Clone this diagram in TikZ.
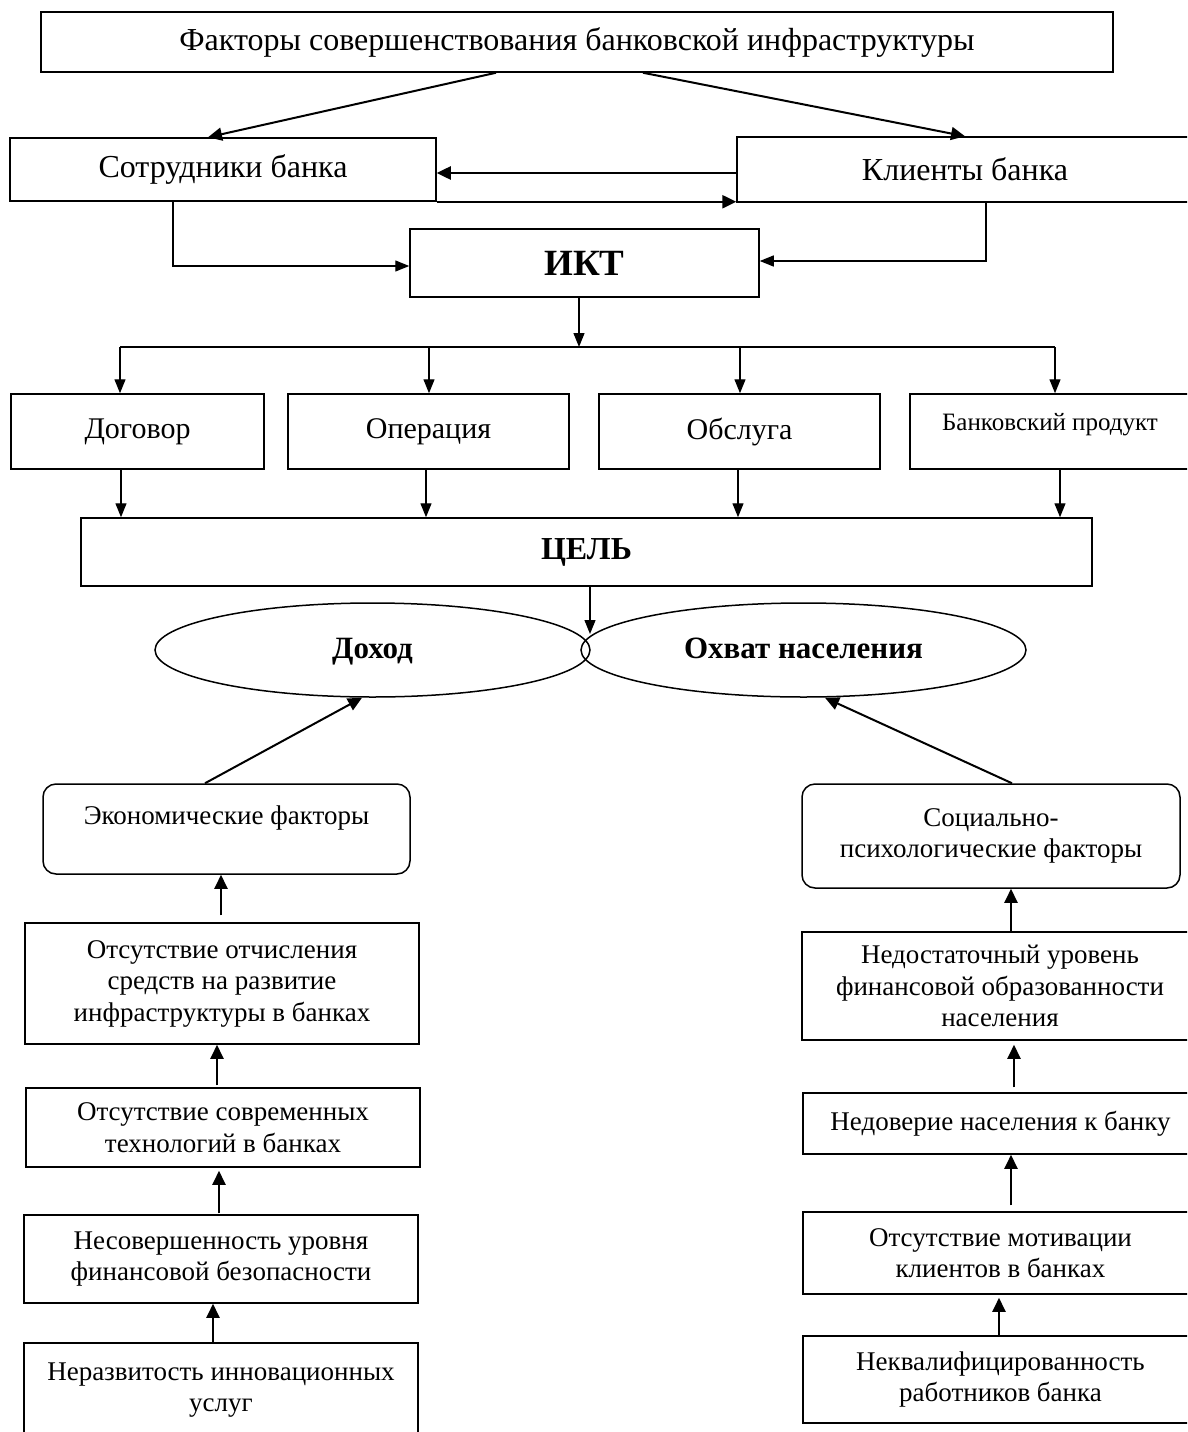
\documentclass[tikz,border=0pt]{standalone}
\usepackage{fontspec}
\setmainfont{Liberation Serif}
\usetikzlibrary{arrows.meta,shapes.geometric}
\tikzset{
  box/.style={draw, line width=1.5pt, inner sep=2pt, align=center, anchor=center},
  rbox/.style={box, rounded corners=13pt},
  oval/.style={draw, line width=1.5pt, ellipse, inner sep=0pt, anchor=center, text height=23pt, text depth=7pt},
  conn/.style={line width=2pt, -{Triangle[length=14pt,width=13pt]}},
  tconn/.style={line width=1.3pt, -{Triangle[length=14pt,width=11pt]}},
  thin/.style={line width=1.3pt},
  fbig/.style={font=\fontsize{32}{36}\selectfont},
  fmid/.style={font=\fontsize{30}{34}\selectfont},
  fsmall/.style={font=\fontsize{27}{31.5}\selectfont},
}
\begin{document}
\begin{tikzpicture}[x=1pt,y=-1pt]
\useasboundingbox (0,0) rectangle (1187,1432);
\clip (0,0) rectangle (1187,1432);
% top level
\node[box, fbig, minimum width=1072pt, minimum height=60pt] (top) at (577,42) {Факторы совершенствования банковской инфраструктуры};
\node[box, fbig, minimum width=426pt, minimum height=63pt] (sotr) at (223,169.5) {Сотрудники банка};
\node[box, fbig, minimum width=456pt, minimum height=65pt] (klient) at (965,169.5) {Клиенты банка};
\node[box, font=\fontsize{37}{40}\bfseries\selectfont, minimum width=349pt, minimum height=68pt] (ikt) at (584.5,263) {ИКТ};
% second level
\node[box, fmid, minimum width=253pt, minimum height=75pt] (dog) at (137.5,431.5) {Договор};
\node[box, fmid, minimum width=281pt, minimum height=75pt] (oper) at (428.5,431.5) {Операция};
\node[box, fmid, minimum width=281pt, minimum height=75pt] (obsl) at (739.5,431.5) {Обслуга};
\node[box, font=\fontsize{25}{29}\selectfont, minimum width=280pt, minimum height=75pt] (prod) at (1050,431.5) {Банковский продукт\\[-18pt]\strut};
\node[box, font=\fontsize{32}{36}\bfseries\selectfont, minimum width=1011pt, minimum height=68pt] (cel) at (586.5,552) {ЦЕЛЬ};
% ellipses
\node[oval, font=\fontsize{31}{35}\bfseries\selectfont, minimum width=435pt, minimum height=94pt] (dohod) at (372.5,650) {Доход};
\node[oval, font=\fontsize{31}{35}\bfseries\selectfont, minimum width=445pt, minimum height=94pt] (ohvat) at (803.5,650) {Охват населения};
% left column
\node[rbox, fsmall, minimum width=367pt, minimum height=90pt] (econ) at (226.5,829) {Экономические факторы\\[-14pt]\strut};
\node[box, fsmall, minimum width=394pt, minimum height=121pt] (l1) at (222,983.5) {Отсутствие отчисления\\средств на развитие\\инфраструктуры в банках};
\node[box, fsmall, minimum width=394pt, minimum height=79pt] (l2) at (223,1127.5) {Отсутствие современных\\технологий в банках};
\node[box, fsmall, minimum width=394pt, minimum height=88pt] (l3) at (221,1259) {Несовершенность уровня\\финансовой безопасности};
\node[box, fsmall, minimum width=394pt, minimum height=94pt] (l4) at (221,1390) {Неразвитость инновационных\\услуг};
% right column
\node[rbox, fsmall, minimum width=378pt, minimum height=104pt] (soc) at (991,836) {Социально-\\психологические факторы};
\node[box, fsmall, minimum width=396pt, minimum height=108pt] (r1) at (1000,986) {Недостаточный уровень\\финансовой образованности\\населения};
\node[box, fsmall, minimum width=395pt, minimum height=61pt] (r2) at (1000.5,1123.5) {Недоверие населения к банку};
\node[box, fsmall, minimum width=395pt, minimum height=82pt] (r3) at (1000.5,1253) {Отсутствие мотивации\\клиентов в банках};
\node[box, fsmall, minimum width=395pt, minimum height=87pt] (r4) at (1000.5,1379.5) {Неквалифицированность\\работников банка};
% top connectors
\draw[conn] ([xshift=-81pt]top.south) -- ([xshift=-15pt]sotr.north);
\draw[conn] ([xshift=66pt]top.south) -- (klient.north);
\draw[conn, line width=2.5pt] ([yshift=-3.5pt]klient.west) -- ([yshift=-3.5pt]sotr.east);
\draw[conn, line width=2.5pt] (sotr.south east) -- (klient.west |- sotr.south east);
\draw[tconn] ([xshift=-50pt]sotr.south) |- ([yshift=-3pt]ikt.west);
\draw[tconn] ([xshift=21pt]klient.south) |- ([yshift=2pt]ikt.east);
% bus
\coordinate (ik) at (579,347);
\coordinate (b1) at (120,347);
\coordinate (b2) at (429,347);
\coordinate (b3) at (740,347);
\coordinate (b4) at (1055,347);
\draw[tconn] (ik |- ikt.south) -- (ik);
\draw[thin] (b1) -- (b4);
\draw[tconn] (b1) -- (b1 |- dog.north);
\draw[tconn] (b2) -- (b2 |- oper.north);
\draw[tconn] (b3) -- (b3 |- obsl.north);
\draw[tconn] (b4) -- (b4 |- prod.north);
% to goal
\coordinate (d1) at ([xshift=-16.5pt]dog.south);
\coordinate (d2) at ([xshift=-2.5pt]oper.south);
\coordinate (d3) at ([xshift=-1.5pt]obsl.south);
\coordinate (d4) at ([xshift=10pt]prod.south);
\draw[tconn] (d1) -- (d1 |- cel.north);
\draw[tconn] (d2) -- (d2 |- cel.north);
\draw[tconn] (d3) -- (d3 |- cel.north);
\draw[tconn] (d4) -- (d4 |- cel.north);
\coordinate (c0) at ([xshift=3.5pt]cel.south);
\coordinate (touch) at (590,634);
\draw[tconn] (c0) -- (touch);
% factors to ellipses
\draw[conn] ([xshift=-21.5pt]econ.north) -- ([xshift=-10.5pt]dohod.south);
\draw[conn] ([xshift=21pt]soc.north) -- ([xshift=21.5pt]ohvat.south);
% left chain
\coordinate (a1) at ([xshift=-1pt,yshift=7pt]l1.north);
\draw[conn] (a1) -- (a1 |- econ.south);
\coordinate (a2) at ([xshift=-6pt,yshift=2pt]l2.north);
\draw[conn] (a2) -- (a2 |- l1.south);
\coordinate (a3) at ([xshift=-2pt,yshift=1pt]l3.north);
\draw[conn, shorten >=3pt] (a3) -- (a3 |- l2.south);
\coordinate (a4) at ([xshift=-8pt]l4.north);
\draw[conn] (a4) -- (a4 |- l3.south);
% right chain
\coordinate (e1) at ([xshift=11pt]r1.north);
\draw[conn] (e1) -- (e1 |- soc.south);
\coordinate (e2) at ([xshift=13.5pt,yshift=5pt]r2.north);
\draw[conn, shorten >=4pt] (e2) -- (e2 |- r1.south);
\coordinate (e3) at ([xshift=10.5pt,yshift=6pt]r3.north);
\draw[conn] (e3) -- (e3 |- r2.south);
\coordinate (e4) at ([xshift=-1.5pt]r4.north);
\draw[conn, shorten >=3pt] (e4) -- (e4 |- r3.south);
\end{tikzpicture}
\end{document}
